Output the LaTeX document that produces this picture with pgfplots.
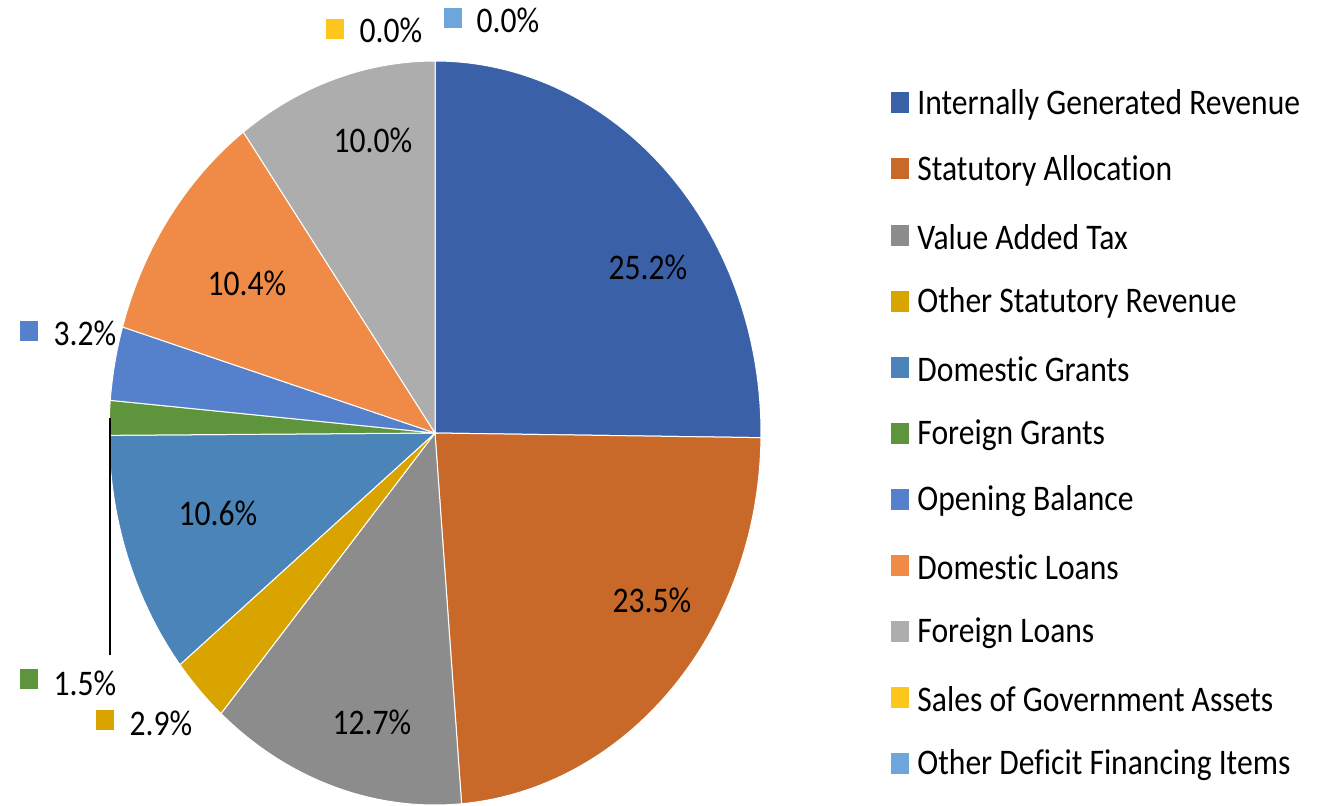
\documentclass[border=0pt]{standalone}
\usepackage{pgfplots}
\pgfplotsset{compat=1.18}
\usepackage{pgfplotstable}
\usepackage{fontspec}
\setmainfont{Carlito}[RawFeature={-liga;-clig;-dlig;-rlig;-calt}]

\definecolor{c1}{HTML}{3A60A8}
\definecolor{c2}{HTML}{C8692A}
\definecolor{c3}{HTML}{8C8C8C}
\definecolor{c4}{HTML}{D9A300}
\definecolor{c5}{HTML}{4A84B8}
\definecolor{c6}{HTML}{5E943B}
\definecolor{c7}{HTML}{5580CB}
\definecolor{c8}{HTML}{EF8B47}
\definecolor{c9}{HTML}{ADADAD}
\definecolor{c10}{HTML}{FFC61E}
\definecolor{c11}{HTML}{6CA6DA}

% share of revenue, clockwise from 12 o'clock
\pgfplotstableread[col sep=comma]{
name,value,col
Internally Generated Revenue,25.2,c1
Statutory Allocation,23.5,c2
Value Added Tax,12.7,c3
Other Statutory Revenue,2.9,c4
Domestic Grants,10.6,c5
Foreign Grants,1.5,c6
Opening Balance,3.2,c7
Domestic Loans,10.4,c8
Foreign Loans,10.0,c9
Sales of Government Assets,0.0,c10
Other Deficit Financing Items,0.0,c11
}\piedata

\tikzset{lbl/.style={inner sep=0pt,font=\fontsize{15.8}{19}\selectfont,yscale=1.14}}

\begin{document}
\begin{tikzpicture}[x=0.5pt,y=0.5pt]
\path[use as bounding box] (0,0) rectangle (1327,805);
\begin{axis}[
  at={(54.5pt,0pt)}, anchor=south west,
  scale only axis, width=326pt, height=372pt,
  xmin=-1, xmax=1, ymin=-1, ymax=1,
  hide axis, clip=false,
]
\def\cum{0}
\pgfplotsforeachungrouped \i in {0,...,10}{%
  \pgfplotstablegetelem{\i}{value}\of\piedata \let\pv\pgfplotsretval
  \pgfplotstablegetelem{\i}{col}\of\piedata \let\pc\pgfplotsretval
  \ifdim\pv pt>0pt
    \pgfmathsetmacro\pa{\cum*3.6}%
    \pgfmathsetmacro\pb{(\cum+\pv)*3.6}%
    \edef\temp{\noexpand\fill[\pc,draw=white,line width=0.5pt] (axis cs:0,0) -- plot[domain=\pa:\pb,samples=90,variable=\noexpand\ang] (axis cs:{sin(\noexpand\ang)},{cos(\noexpand\ang)}) -- cycle;}%
    \temp
  \fi
  \pgfmathsetmacro\cum{\cum+\pv}%
}
\end{axis}

% labels inside slices
\node[lbl] at (648,538) {25.2\%};
\node[lbl] at (652,205) {23.5\%};
\node[lbl] at (372,83) {12.7\%};
\node[lbl] at (218,292) {10.6\%};
\node[lbl] at (247,522) {10.4\%};
\node[lbl] at (373,665) {10.0\%};

% outside labels
\draw[black,line width=1pt] (110,387) -- (110,150);
\fill[c7] (20,464) rectangle (38,484);
\node[lbl] at (85,472) {3.2\%};
\fill[c6] (20,116) rectangle (38,136);
\node[lbl] at (85,122) {1.5\%};
\fill[c4] (96,75) rectangle (114,95);
\node[lbl] at (161,82) {2.9\%};
\fill[c10] (326,766) rectangle (344,786);
\node[lbl] at (391,775) {0.0\%};
\fill[c11] (444,777) rectangle (462,797);
\node[lbl] at (508,785) {0.0\%};

% legend
\foreach \nm/\cc [count=\k from 0] in {Internally Generated Revenue/c1,Statutory Allocation/c2,Value Added Tax/c3,Other Statutory Revenue/c4,Domestic Grants/c5,Foreign Grants/c6,Opening Balance/c7,Domestic Loans/c8,Foreign Loans/c9,Sales of Government Assets/c10,Other Deficit Financing Items/c11}{
  \fill[\cc] (891,{702-66*\k-10.5}) rectangle (909,{702-66*\k+10.5});
  \node[lbl,anchor=west] at (917,{702-66*\k-2}) {\nm};
}
\end{tikzpicture}
\end{document}
